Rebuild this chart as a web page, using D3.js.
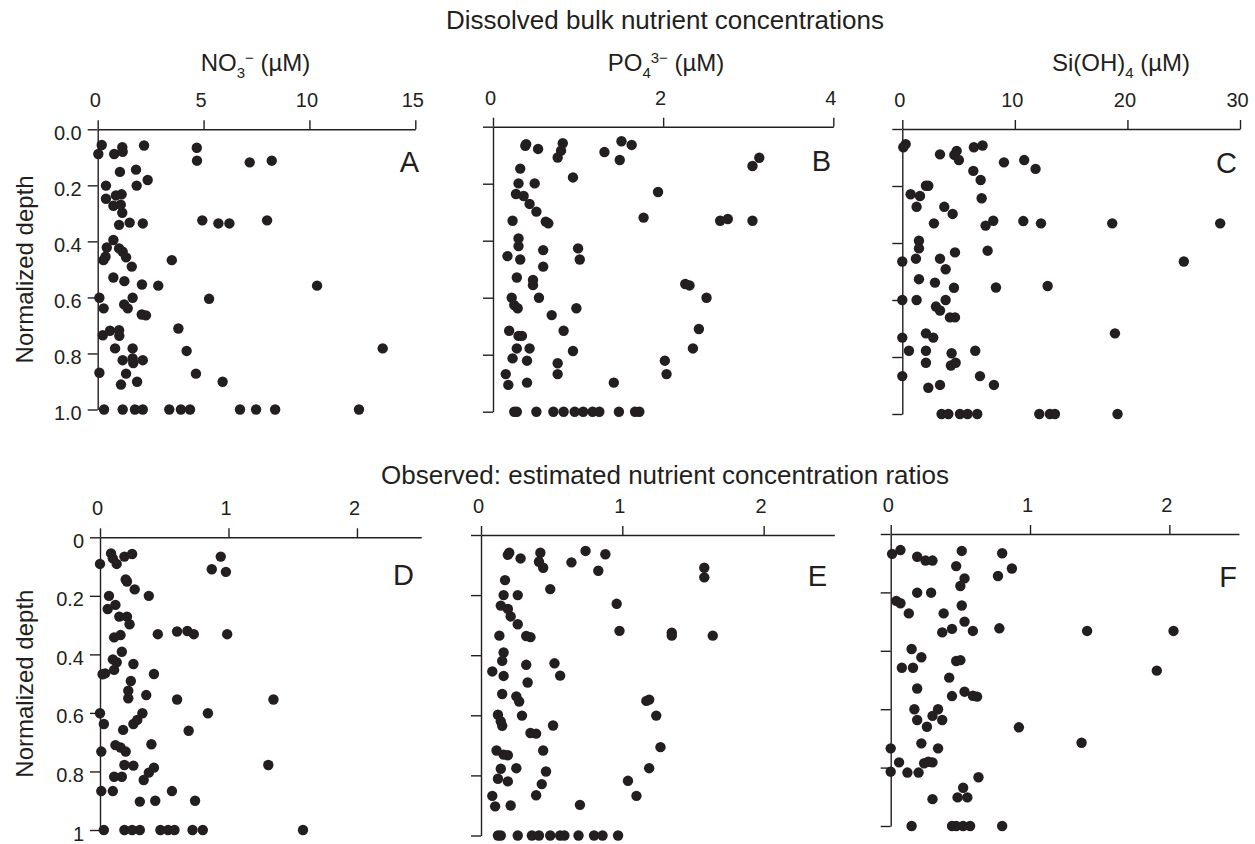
<!DOCTYPE html>
<html>
<head>
<meta charset="utf-8">
<script src="https://cdn.jsdelivr.net/npm/d3@7"></script>
<style>
  body { margin: 0; background: #fff; }
  svg { display: block; font-family: "Liberation Sans", Arial, Helvetica, sans-serif; }
</style>
</head>
<body>
<svg width="1255" height="844"></svg>
<script>
// values: [concentration or ratio, normalized depth]
const nitrate = [
  [0.19,0.056],[0.03,0.088],[0.78,0.088],[1.16,0.064],[1.18,0.08],[2.19,0.058],[4.68,0.066],[4.69,0.112],[7.18,0.118],[8.22,0.112],
  [1.05,0.152],[1.81,0.144],[2.36,0.181],[0.39,0.201],[1.84,0.201],[0.39,0.248],[0.86,0.236],[1.13,0.232],[0.74,0.273],[1.09,0.269],
  [1.16,0.298],[1.01,0.341],[1.51,0.333],[2.13,0.336],[4.94,0.325],[5.70,0.336],[6.22,0.336],[8.0,0.325],
  [0.74,0.395],[0.43,0.422],[1.01,0.425],[1.18,0.437],[1.34,0.457],[0.27,0.467],[0.37,0.455],[3.50,0.467],[1.61,0.49],
  [0.74,0.529],[1.26,0.542],[2.09,0.554],[2.86,0.558],[10.36,0.558],
  [0.08,0.601],[0.28,0.639],[1.65,0.601],[5.26,0.605],[1.25,0.625],[1.42,0.639],[2.08,0.661],[2.28,0.664],
  [0.24,0.735],[0.58,0.719],[1.01,0.717],[1.02,0.737],[3.81,0.711],
  [0.82,0.782],[1.65,0.782],[4.20,0.791],[13.46,0.782],[1.18,0.824],[1.65,0.818],[1.68,0.834],[2.13,0.824],
  [0.08,0.869],[1.34,0.872],[4.64,0.872],[1.10,0.911],[1.86,0.901],[5.90,0.901],
  [0.30,1],[1.18,1],[1.76,1],[2.13,1],[3.38,1],[3.93,1],[4.36,1],[6.72,1],[7.48,1],[8.38,1],[12.34,1]
]

const phosphate = [
  [0.39,0.061],[0.38,0.067],[0.53,0.078],[0.82,0.058],[0.80,0.084],[0.76,0.108],[1.31,0.089],[1.51,0.051],[1.63,0.064],[1.49,0.117],
  [3.13,0.109],[3.05,0.138],[0.32,0.147],[0.94,0.178],[0.30,0.199],[0.49,0.199],[1.94,0.229],[0.27,0.236],[0.36,0.243],[0.43,0.271],
  [0.51,0.298],[0.23,0.33],[0.62,0.333],[0.65,0.339],[1.77,0.319],[2.67,0.33],[2.76,0.324],[3.05,0.33],
  [0.30,0.392],[0.30,0.419],[0.59,0.433],[1.00,0.427],[0.17,0.454],[0.32,0.466],[1.02,0.466],[0.59,0.491],
  [0.28,0.529],[0.47,0.538],[0.47,0.556],[2.26,0.552],[2.31,0.557],[2.51,0.6],[0.22,0.6],[0.25,0.626],[0.29,0.637],[0.54,0.6],
  [0.98,0.637],[0.69,0.661],[0.19,0.716],[0.30,0.734],[0.34,0.734],[0.83,0.716],[2.42,0.71],
  [0.28,0.778],[0.43,0.778],[0.94,0.787],[2.35,0.778],[0.23,0.813],[0.40,0.821],[0.76,0.83],[2.02,0.821],
  [0.15,0.868],[2.04,0.868],[0.76,0.868],[0.18,0.906],[0.40,0.898],[1.42,0.898],
  [0.25,1],[0.28,1],[0.51,1],[0.71,1],[0.83,1],[0.96,1],[1.06,1],[1.17,1],[1.25,1],[1.48,1],[1.67,1],[1.72,1]
]

const silicate = [
  [0.30,0.053],[0.09,0.064],[3.35,0.089],[4.83,0.077],[4.62,0.091],[5.03,0.109],[6.36,0.064],[7.13,0.058],[9.03,0.117],[10.83,0.109],
  [11.84,0.14],[6.31,0.147],[6.96,0.179],[2.10,0.199],[2.31,0.199],[0.74,0.229],[1.57,0.235],[1.27,0.273],[3.73,0.273],[4.47,0.298],
  [7.05,0.243],[2.81,0.331],[7.40,0.339],[8.08,0.322],[10.75,0.323],[12.32,0.331],[18.65,0.331],[28.24,0.331],
  [1.48,0.392],[1.48,0.419],[1.21,0.455],[0.0,0.465],[3.35,0.455],[4.68,0.433],[7.58,0.427],[25.01,0.465],
  [3.85,0.492],[1.48,0.527],[2.90,0.539],[4.59,0.557],[8.32,0.556],[12.91,0.551],
  [0.0,0.6],[1.27,0.6],[3.85,0.6],[2.99,0.623],[3.35,0.637],[4.23,0.661],[4.68,0.661],
  [0.0,0.732],[2.10,0.717],[2.75,0.732],[18.89,0.717],[0.59,0.778],[2.10,0.778],[4.38,0.787],[6.48,0.778],
  [2.10,0.82],[4.32,0.83],[4.74,0.82],[0.0,0.867],[6.90,0.867],[2.31,0.908],[3.35,0.898],[8.14,0.898],
  [3.49,1],[4.09,1],[5.12,1],[5.80,1],[6.66,1],[12.17,1],[13.11,1],[13.56,1],[19.12,1]
]

const ratioN = [
  [0.086,0.055],[0.10,0.072],[0.13,0.091],[0.19,0.066],[0.25,0.057],[0.0,0.091],[0.94,0.066],[0.87,0.109],[0.98,0.118],
  [0.20,0.144],[0.21,0.151],[0.27,0.178],[0.38,0.2],[0.07,0.2],[0.12,0.231],[0.06,0.245],[0.15,0.271],[0.21,0.271],[0.23,0.297],
  [0.11,0.342],[0.16,0.334],[0.45,0.331],[0.60,0.322],[0.68,0.32],[0.73,0.331],[0.99,0.331],
  [0.17,0.391],[0.10,0.417],[0.13,0.427],[0.26,0.433],[0.04,0.465],[0.02,0.468],[0.11,0.453],[0.42,0.467],[0.24,0.491],
  [0.22,0.524],[0.22,0.55],[0.36,0.539],[0.60,0.554],[1.35,0.554],
  [0.0,0.601],[0.03,0.638],[0.18,0.658],[0.26,0.638],[0.29,0.624],[0.33,0.601],[0.84,0.601],[0.69,0.661],
  [0.01,0.732],[0.12,0.71],[0.16,0.718],[0.20,0.732],[0.40,0.707],
  [0.19,0.778],[0.26,0.78],[0.42,0.787],[0.38,0.804],[0.34,0.829],[1.31,0.778],[0.11,0.818],[0.17,0.818],
  [0.01,0.867],[0.10,0.867],[0.56,0.867],[0.31,0.903],[0.43,0.9],[0.74,0.9],
  [0.03,1],[0.19,1],[0.25,1],[0.31,1],[0.47,1],[0.53,1],[0.58,1],[0.72,1],[0.80,1],[1.58,1]
]

const ratioP = [
  [0.20,0.059],[0.19,0.066],[0.28,0.078],[0.42,0.059],[0.41,0.089],[0.44,0.109],[0.64,0.091],[0.74,0.053],[0.88,0.064],[0.83,0.119],
  [1.58,0.109],[1.58,0.141],[0.17,0.15],[0.49,0.18],[0.16,0.2],[0.26,0.2],[0.96,0.229],[0.14,0.235],[0.19,0.246],[0.21,0.271],
  [0.26,0.297],[0.13,0.335],[0.32,0.336],[0.35,0.34],[0.98,0.319],[1.35,0.325],[1.35,0.335],[1.64,0.335],
  [0.16,0.391],[0.15,0.419],[0.08,0.454],[0.16,0.469],[0.32,0.432],[0.52,0.427],[0.56,0.468],[0.33,0.491],
  [0.15,0.529],[0.25,0.537],[0.27,0.554],[1.17,0.552],[1.19,0.548],[1.24,0.601],
  [0.12,0.598],[0.14,0.62],[0.15,0.635],[0.29,0.601],[0.51,0.634],[0.35,0.659],[0.39,0.661],
  [0.11,0.717],[0.16,0.731],[0.19,0.733],[0.44,0.717],[1.27,0.706],
  [0.14,0.778],[0.25,0.776],[0.46,0.787],[1.19,0.776],[0.12,0.811],[0.19,0.82],[0.43,0.829],[1.04,0.818],
  [0.08,0.868],[0.39,0.866],[1.10,0.868],[0.10,0.903],[0.21,0.9],[0.70,0.898],
  [0.12,1],[0.14,1],[0.26,1],[0.36,1],[0.41,1],[0.49,1],[0.56,1],[0.59,1],[0.69,1],[0.80,1],[0.86,1],[0.97,1]
]

const ratioSi = [
  [0.01,0.068],[0.07,0.055],[0.19,0.078],[0.25,0.091],[0.30,0.091],[0.51,0.058],[0.80,0.066],[0.47,0.11],[0.87,0.118],
  [0.77,0.144],[0.53,0.152],[0.50,0.178],[0.19,0.201],[0.29,0.201],[0.04,0.229],[0.07,0.237],[0.13,0.272],[0.51,0.245],
  [0.38,0.272],[0.53,0.3],[0.37,0.337],[0.44,0.325],[0.59,0.332],[0.78,0.323],[1.41,0.332],[2.03,0.332],
  [0.15,0.394],[0.22,0.422],[0.08,0.458],[0.16,0.458],[0.47,0.435],[0.50,0.432],[1.91,0.468],[0.42,0.492],
  [0.19,0.529],[0.44,0.555],[0.53,0.54],[0.59,0.554],[0.62,0.557],
  [0.17,0.6],[0.34,0.6],[0.30,0.623],[0.19,0.637],[0.37,0.637],[0.26,0.66],[0.92,0.662],
  [0.0,0.734],[0.22,0.717],[0.34,0.734],[1.37,0.715],
  [0.06,0.782],[0.24,0.785],[0.27,0.78],[0.30,0.782],[0.0,0.814],[0.12,0.817],[0.20,0.817],[0.63,0.833],
  [0.52,0.869],[0.48,0.902],[0.55,0.902],[0.30,0.908],
  [0.15,1],[0.44,1],[0.47,1],[0.52,1],[0.57,1],[0.80,1]
]

const depthTicks = [0, 0.2, 0.4, 0.6, 0.8, 1]
const depthLabelsTop = ["0.0", "0.2", "0.4", "0.6", "0.8", "1.0"]
const depthLabelsBottom = ["0", "0.2", "0.4", "0.6", "0.8", "1"]
const ticksNO3 = [0, 5, 10, 15]
const ticksPO4 = [0, 2, 4]
const ticksSi = [0, 10, 20, 30]
const ticksRatio = [0, 1, 2]

const ink = "#231f20"
const svg = d3.select("svg")

const panels = [
  {letter: "A", data: nitrate,   domain: [0, 15],  ticks: ticksNO3,   xr: [97.7, 415.3], yr: [129.3, 409.5], ylab: depthLabelsTop,    lx: 419, ly: 172,
   title: [["NO", 0], ["3", 1], ["\u2212", 2], [" (\u00b5M)", 0]], tx: 255.5},
  {letter: "B", data: phosphate, domain: [0, 4],   ticks: ticksPO4,   xr: [493, 833.3],  yr: [126.7, 411.7], ylab: null, lx: 831, ly: 171,
   title: [["PO", 0], ["4", 1], ["3\u2212", 2], [" (\u00b5M)", 0]], tx: 666},
  {letter: "C", data: silicate,  domain: [0, 30],  ticks: ticksSi,    xr: [902.3, 1240], yr: [129, 414],     ylab: null, lx: 1237, ly: 173,
   title: [["Si(OH)", 0], ["4", 1], [" (\u00b5M)", 0]], tx: 1121},
  {letter: "D", data: ratioN,    domain: [0, 2.5], ticks: ticksRatio, xr: [100, 421.2],  yr: [537.3, 830],   ylab: depthLabelsBottom, lx: 414, ly: 585},
  {letter: "E", data: ratioP,    domain: [0, 2.5], ticks: ticksRatio, xr: [481, 834.3],  yr: [535, 835.5],   ylab: null, lx: 827, ly: 586},
  {letter: "F", data: ratioSi,   domain: [0, 2.5], ticks: ticksRatio, xr: [890.7, 1239], yr: [534, 826],     ylab: null, lx: 1237, ly: 587}
]

panels.forEach(p => {
  const x = d3.scaleLinear().domain(p.domain).range(p.xr)
  const y = d3.scaleLinear().domain([0, 1]).range(p.yr)
  const g = svg.append("g")

  const xAxis = g.append("g")
    .attr("transform", `translate(0,${p.yr[0]})`)
    .call(d3.axisTop(x).tickValues(p.ticks).tickSize(9).tickSizeOuter(0).tickPadding(13).tickFormat(d3.format("d")))
  xAxis.selectAll("text").attr("dx", -3)

  const yAxis = g.append("g")
    .attr("transform", `translate(${p.xr[0]},0)`)
    .call(d3.axisLeft(y).tickValues(depthTicks).tickSize(10).tickSizeOuter(0).tickPadding(6)
      .tickFormat((d, i) => p.ylab ? p.ylab[i] : ""))
  yAxis.selectAll("text").attr("dy", "0.5em")

  g.selectAll(".domain, .tick line").attr("stroke", ink).attr("stroke-width", 1.4)
  g.selectAll(".tick text").attr("fill", ink).style("font-size", "20px")
    .style("font-family", "'Liberation Sans', Arial, sans-serif")

  g.append("g").selectAll("circle")
    .data(p.data)
    .enter().append("circle")
    .attr("cx", d => x(d[0]))
    .attr("cy", d => y(d[1]))
    .attr("r", 5.2)
    .attr("fill", ink)

  g.append("text")
    .attr("x", p.lx).attr("y", p.ly)
    .attr("text-anchor", "end")
    .attr("fill", ink)
    .style("font-size", "29px")
    .text(p.letter)

  if (p.title) {
    const t = g.append("text")
      .attr("x", p.tx).attr("y", 71)
      .attr("text-anchor", "middle")
      .attr("fill", ink)
      .style("font-size", "24px")
    let level = 0
    p.title.forEach(([s, kind]) => {
      const shift = {0: 0, 1: 7, 2: -8}[kind] - {0: 0, 1: 7, 2: -8}[level]
      t.append("tspan")
        .attr("dy", shift)
        .style("font-size", kind ? "15px" : "24px")
        .text(s)
      level = kind
    })
  }

  if (p.ylab) {
    const cy = (p.yr[0] + p.yr[1]) / 2
    svg.append("text")
      .attr("transform", `translate(33,${cy}) rotate(-90)`)
      .attr("text-anchor", "middle")
      .attr("fill", ink)
      .style("font-size", "24px")
      .text("Normalized depth")
  }
})

svg.append("text")
  .attr("x", 665).attr("y", 29)
  .attr("text-anchor", "middle")
  .attr("fill", ink)
  .style("font-size", "26px")
  .text("Dissolved bulk nutrient concentrations")

svg.append("text")
  .attr("x", 665).attr("y", 484)
  .attr("text-anchor", "middle")
  .attr("fill", ink)
  .style("font-size", "26px")
  .text("Observed: estimated nutrient concentration ratios")
</script>
</body>
</html>
